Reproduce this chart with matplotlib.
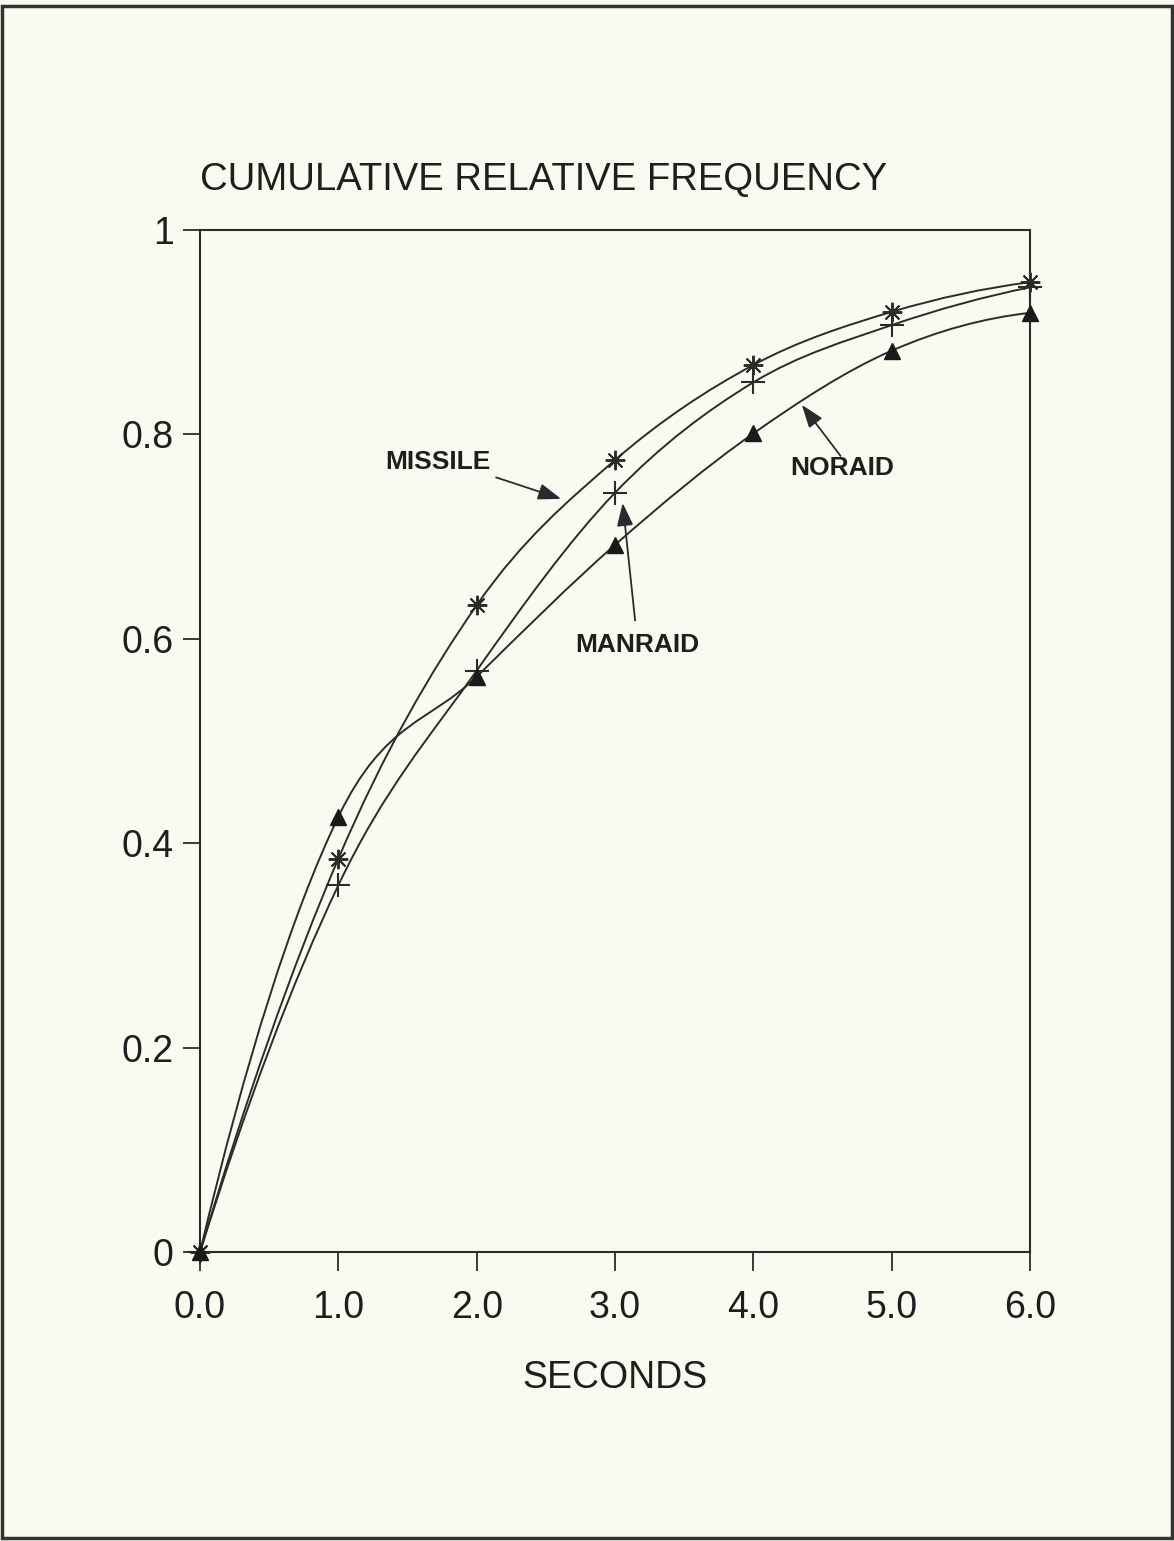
import numpy as np
import matplotlib
matplotlib.use("Agg")
import matplotlib.pyplot as plt
from matplotlib.path import Path
from matplotlib.patches import PathPatch, Rectangle

plt.rcParams['font.family'] = ['Liberation Sans', 'DejaVu Sans']

# data
seconds = [0.0, 1.0, 2.0, 3.0, 4.0, 5.0, 6.0]
missile = [0.0, 0.385, 0.633, 0.775, 0.868, 0.920, 0.949]
manraid = [0.0, 0.359, 0.569, 0.743, 0.851, 0.907, 0.944]
noraid = [0.0, 0.426, 0.563, 0.692, 0.801, 0.882, 0.919]

xticks = [0, 1, 2, 3, 4, 5, 6]
xtick_labels = ['0.0', '1.0', '2.0', '3.0', '4.0', '5.0', '6.0']
yticks = [0, 0.2, 0.4, 0.6, 0.8, 1.0]
ytick_labels = ['0', '0.2', '0.4', '0.6', '0.8', '1']

bg = '#fbfaf0'
ink = '#2b2b2b'
txt = '#1e1e1e'


def smooth_path(x, y):
    "cubic bezier through the points (catmull-rom style tangents)"
    x = np.asarray(x, float)
    y = np.asarray(y, float)
    n = len(x)
    m = np.zeros(n)
    for i in range(1, n - 1):
        m[i] = (y[i + 1] - y[i - 1]) / (x[i + 1] - x[i - 1])
    m[0] = 2 * (y[1] - y[0]) / (x[1] - x[0]) - m[1]
    m[-1] = 2 * (y[-1] - y[-2]) / (x[-1] - x[-2]) - m[-2]
    verts = [(x[0], y[0])]
    codes = [Path.MOVETO]
    for i in range(n - 1):
        h = x[i + 1] - x[i]
        verts += [(x[i] + h / 3, y[i] + m[i] * h / 3),
                  (x[i + 1] - h / 3, y[i + 1] - m[i + 1] * h / 3),
                  (x[i + 1], y[i + 1])]
        codes += [Path.CURVE4] * 3
    return Path(verts, codes)


fig = plt.figure(figsize=(11.74, 15.41), dpi=100, facecolor=bg)
ax = fig.add_axes([0.1704, 0.1875, 0.707, 0.6632])
ax.set_facecolor(bg)

for ys in (missile, manraid, noraid):
    ax.add_patch(PathPatch(smooth_path(seconds, ys), facecolor='none',
                           edgecolor=ink, linewidth=1.4, zorder=2))

ax.plot(seconds, missile, linestyle='none', marker=(8, 2, 0), markersize=14,
        markeredgewidth=1.4, color=ink, zorder=3, clip_on=False)
ax.plot(seconds, manraid, linestyle='none', marker='+', markersize=17,
        markeredgewidth=1.5, color=ink, zorder=3, clip_on=False)
ax.plot(seconds, noraid, linestyle='none', marker='^', markersize=11,
        color='#1a1a1a', zorder=3, clip_on=False)

ax.set_xlim(0, 6)
ax.set_ylim(0, 1)
ax.set_xticks(xticks)
ax.set_xticklabels(xtick_labels)
ax.set_yticks(yticks)
ax.set_yticklabels(ytick_labels)
ax.tick_params(direction='out', width=1.3, color=ink,
               labelsize=27, labelcolor=txt)
ax.tick_params(axis='x', length=14, pad=13)
ax.tick_params(axis='y', length=12, pad=7)
for sp in ax.spines.values():
    sp.set_linewidth(1.5)
    sp.set_color(ink)

ax.set_xlabel('SECONDS', fontsize=27, color=txt, labelpad=25)
ax.text(0.0, 1.039, 'CUMULATIVE RELATIVE FREQUENCY', transform=ax.transAxes,
        fontsize=27.5, color=txt, ha='left', va='baseline')

# labels with arrows
arrow = dict(arrowstyle='-|>,head_length=0.7,head_width=0.25', color=ink,
             linewidth=1.3, mutation_scale=20, shrinkA=0, shrinkB=0)
ax.text(1.72, 0.773, 'MISSILE', fontsize=19, fontweight='bold', ha='center',
        va='center', color=txt)
ax.annotate('', xy=(2.61, 0.737), xytext=(2.14, 0.758), arrowprops=arrow)
ax.text(3.16, 0.594, 'MANRAID', fontsize=19, fontweight='bold', ha='center',
        va='center', color=txt)
ax.annotate('', xy=(3.055, 0.733), xytext=(3.145, 0.618), arrowprops=arrow)
ax.text(4.64, 0.767, 'NORAID', fontsize=19, fontweight='bold', ha='center',
        va='center', color=txt)
ax.annotate('', xy=(4.35, 0.829), xytext=(4.63, 0.779), arrowprops=arrow)

# page frame
fig.patches.append(Rectangle((0.002, 0.002), 0.996, 0.994, transform=fig.transFigure,
                             fill=False, edgecolor='#333333', linewidth=2.5))

fig.savefig('out.png', dpi=100, facecolor=bg)
